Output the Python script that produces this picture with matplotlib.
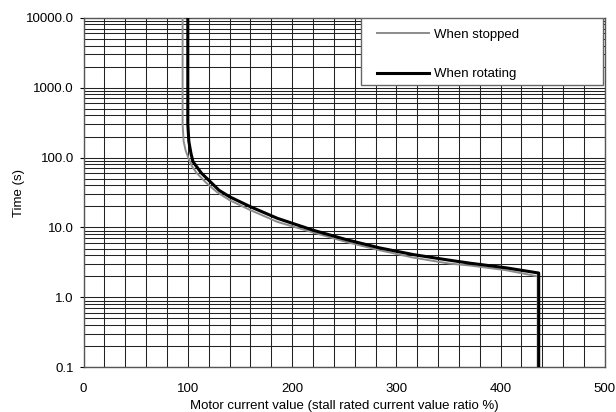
import numpy as np
import matplotlib.pyplot as plt
from matplotlib.patches import Rectangle
from matplotlib.ticker import FixedLocator, NullFormatter

plt.rcParams['font.family'] = ['Liberation Sans', 'DejaVu Sans']

# curve: motor current (%) vs time (s)
stopped_x = [95, 95, 96, 98, 100.5, 104, 108.5, 118, 128, 140, 160, 186, 220, 252, 284, 316, 351, 371, 405, 435.5, 435.5]
stopped_t = [10000, 300, 170, 125, 99, 75, 60, 43, 32, 24.6, 17.7, 12.0, 8.5, 6.2, 4.72, 3.71, 3.04, 2.85, 2.45, 2.0, 0.1]
rotating_x = [100, 100, 101, 103, 105, 113, 123, 130, 140, 160, 186, 220, 252, 284, 316, 351, 371, 405, 436.5, 436.5]
rotating_t = [10000, 300, 170, 115, 87, 60, 43, 34, 27.5, 19.8, 13.5, 9.15, 6.7, 5.1, 4.1, 3.4, 3.08, 2.65, 2.23, 0.1]

x_ticks = [0, 100, 200, 300, 400, 500]
y_ticks = [0.1, 1, 10, 100, 1000, 10000]
y_labels = ['0.1', '1.0', '10.0', '100.0', '1000.0', '10000.0']

fig = plt.figure(figsize=(6.16, 4.12), dpi=100)
ax = fig.add_axes([0.1356, 0.1085, 0.8464, 0.8485])

ax.plot(stopped_x, stopped_t, color='#8c8c8c', lw=1.4, label='When stopped', zorder=3)
ax.plot(rotating_x, rotating_t, color='black', lw=2.2, label='When rotating', zorder=4)

ax.set_yscale('log')
ax.set_xlim(0, 500)
ax.set_ylim(0.1, 10000)

ax.xaxis.set_major_locator(FixedLocator(x_ticks))
ax.xaxis.set_minor_locator(FixedLocator(np.arange(0, 501, 20)))
ax.yaxis.set_major_locator(FixedLocator(y_ticks))
ax.set_yticklabels(y_labels)
minor_y = [m * 10.0 ** e for e in range(-1, 4) for m in range(2, 10)]
ax.yaxis.set_minor_locator(FixedLocator(minor_y))
ax.yaxis.set_minor_formatter(NullFormatter())

ax.grid(True, which='both', color='#222222', lw=0.75)
ax.set_axisbelow(True)
ax.tick_params(which='both', length=0, labelsize=9.5, pad=11)
ax.tick_params(axis='y', which='major', length=3, direction='out', pad=4)
for s in ax.spines.values():
    s.set_color('#555555')
    s.set_linewidth(1.0)

ax.set_xlabel('Motor current value (stall rated current value ratio %)', fontsize=9.5, labelpad=4)
ax.set_ylabel('Time (s)', fontsize=9.5)
ax.yaxis.set_label_coords(-0.112, 0.5)

# legend box is wider than its entries, so draw the frame separately
box = Rectangle((0.5315, 0.8075), 0.4645, 0.1925, transform=ax.transAxes,
                facecolor='white', edgecolor='#666666', lw=1.0, zorder=9)
ax.add_patch(box)
leg = ax.legend(loc='upper left', bbox_to_anchor=(0.563, 0.969), frameon=False,
                borderaxespad=0, borderpad=0, fontsize=9.5, handlelength=3.9,
                handletextpad=0.38, labelspacing=2.08)
leg.set_zorder(10)

fig.savefig('out.png', dpi=100)
